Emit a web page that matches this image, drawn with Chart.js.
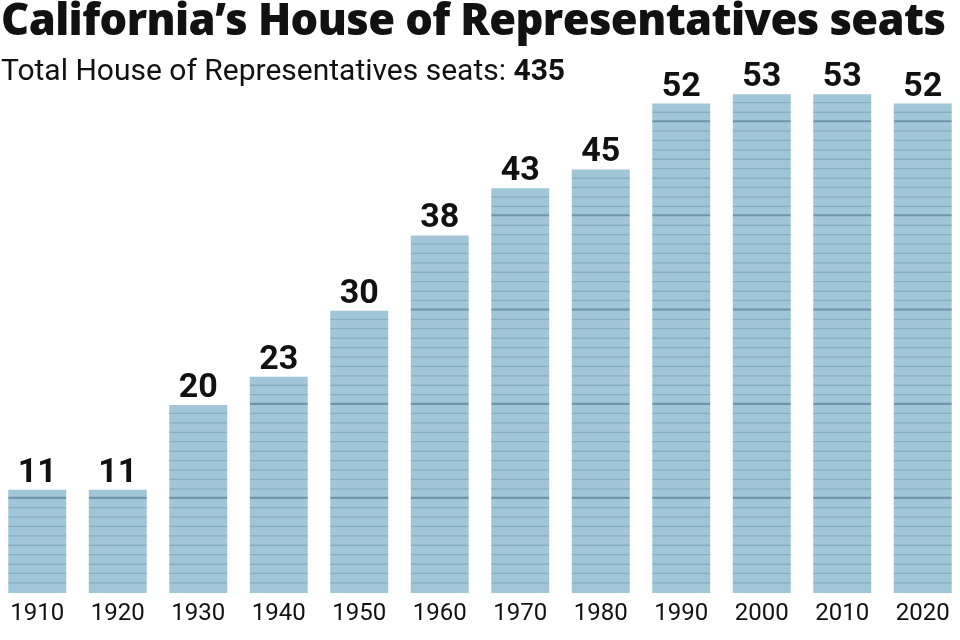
<!DOCTYPE html>
<html>
<head>
<meta charset="utf-8">
<script src="https://cdn.jsdelivr.net/npm/chart.js@4.4.1/dist/chart.umd.min.js"></script>
<style>
    html, body { margin: 0; padding: 0; background: #fff; overflow: hidden; }
    body { width: 960px; height: 640px; position: relative; font-family: Roboto, sans-serif; }
    #wrap { position: absolute; left: -3px; top: 0; width: 966px; height: 640px; }
    #title { position: absolute; left: 1px; top: -7px; font-family: "Open Sans", sans-serif; font-size: 43.5px; font-weight: 800; line-height: 52px; color: #111; white-space: nowrap; letter-spacing: -0.6px; }
    #subtitle { position: absolute; left: 1px; top: 52px; font-size: 30px; line-height: 36px; color: #111; white-space: nowrap; }
    #subtitle b { font-weight: 700; }
</style>
</head>
<body>
<div id="wrap"><canvas id="seatsChart"></canvas></div>
<div id="title">California’s House of Representatives seats</div>
<div id="subtitle">Total House of Representatives seats: <b>435</b></div>
<script>
// Census years and California's seat count after each apportionment
const years = ['1910', '1920', '1930', '1940', '1950', '1960', '1970', '1980', '1990', '2000', '2010', '2020'];
const seats = [11, 11, 20, 23, 30, 38, 43, 45, 52, 53, 53, 52];

const fillColor = '#a0c6d8';
const seatLine = '#86aec1';
const tenLine = '#6e95a8';

// solid column behind the seat lines
const columns = {
    data: seats,
    stack: 'column',
    grouped: false,
    order: 1,
    backgroundColor: fillColor,
    borderWidth: 0,
    inflateAmount: 0,
    barPercentage: 0.72,
    categoryPercentage: 1
};

// one floating bar per seat (k to k+1), only its bottom edge is drawn
const maxSeats = Math.max(...seats);
const seatDatasets = [];
for (let k = 1; k < maxSeats; k++) {
    seatDatasets.push({
        data: seats.map(s => (s > k ? [k, k + 1] : null)),
        stack: 'seats',
        order: 0,
        backgroundColor: 'rgba(0,0,0,0)',
        borderColor: k % 10 === 0 ? tenLine : seatLine,
        borderWidth: { top: 0, right: 0, left: 0, bottom: k % 10 === 0 ? 2.2 : 1.5 },
        borderSkipped: false,
        inflateAmount: 0,
        barPercentage: 0.72,
        categoryPercentage: 1
    });
}

// numbers on top of each column
const valueLabels = {
    id: 'valueLabels',
    afterDatasetsDraw(chart) {
        const { ctx, scales: { x, y } } = chart;
        ctx.save();
        ctx.font = 'bold 34px Roboto, sans-serif';
        ctx.fillStyle = '#111';
        ctx.textAlign = 'center';
        ctx.textBaseline = 'alphabetic';
        seats.forEach((s, i) => {
            ctx.fillText(String(s), x.getPixelForValue(i), y.getPixelForValue(s) - 8);
        });
        ctx.restore();
    }
};

new Chart(document.getElementById('seatsChart'), {
    type: 'bar',
    data: { labels: years, datasets: [columns, ...seatDatasets] },
    options: {
        responsive: true,
        maintainAspectRatio: false,
        animation: false,
        events: [],
        layout: { padding: { top: 0, bottom: 6, left: 0, right: 0 } },
        plugins: {
            legend: { display: false },
            tooltip: { enabled: false }
        },
        scales: {
            x: {
                stacked: true,
                grid: { display: false, drawTicks: false },
                border: { display: false },
                ticks: { color: '#111', font: { family: 'Roboto', size: 24 }, padding: 6 }
            },
            y: {
                stacked: false,
                display: false,
                min: 0,
                max: 63
            }
        }
    },
    plugins: [valueLabels]
});
</script>
</body>
</html>
